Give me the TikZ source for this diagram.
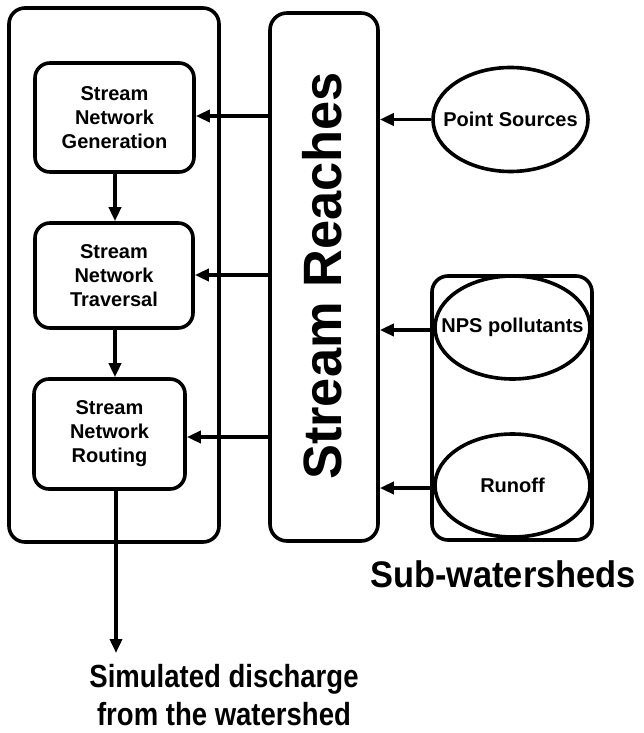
\documentclass[tikz,border=0pt]{standalone}
\usepackage{fontspec}
\setmainfont{Liberation Sans}
\usetikzlibrary{arrows.meta,shapes.geometric}
\begin{document}
\begin{tikzpicture}[x=1pt,y=-1pt,
  lw/.style={line width=3.6pt},
  frame/.style={lw,draw,rounded corners=16pt},
  proc/.style={lw,draw,rounded corners=15pt},
  oval/.style={lw,draw,ellipse},
  arr/.style={lw,-{Triangle[length=14pt,width=12pt]}},
  lbl/.style={font=\fontsize{20}{24}\selectfont\bfseries,align=center,inner sep=0pt},
  big/.style={font=\fontsize{32}{40}\selectfont\bfseries,anchor=base,inner sep=0pt},
]
\useasboundingbox (0,0) rectangle (643,733);
% left frame
\draw[frame] (9,8) rectangle (219,542);
\node[proc,minimum width=159pt,minimum height=109pt] (gen) at (114.5,117.5) {};
\node[lbl] at (gen) {Stream\\Network\\Generation};
\node[proc,minimum width=158pt,minimum height=105pt] (trav) at (114,275.5) {};
\node[lbl] at (trav) {Stream\\Network\\Traversal};
\node[proc,minimum width=151pt,minimum height=110pt] (rout) at (109.5,434) {};
\node[lbl] at (rout) {Stream\\Network\\Routing};
% stream reaches
\node[proc,rounded corners=17pt,minimum width=108pt,minimum height=528pt] (sr) at (324,277) {};
\node[font=\fontsize{54}{60}\selectfont\bfseries,rotate=90,inner sep=0pt] at (322,276) {\scalebox{0.97}[1]{Stream Reaches}};
% sub-watersheds
\node[frame,minimum width=160pt,minimum height=264pt,inner sep=0pt] (sw) at (512,408) {};
\node[oval,minimum width=155pt,minimum height=104pt,inner sep=0pt] (ps) at (510.5,119.5) {};
\node[lbl] at (ps) {Point Sources};
\node[oval,minimum width=155pt,minimum height=103pt,inner sep=0pt] (nps) at (512.5,327.5) {};
\node[lbl] at (nps) {NPS pollutants};
\node[oval,minimum width=155pt,minimum height=103pt,inner sep=0pt] (ro) at (512.5,485.5) {};
\node[lbl] at (ro) {Runoff};
\node[big,font=\fontsize{37}{40}\selectfont\bfseries] (swl) at (503,587) {\scalebox{0.93}[1]{Sub-watersheds}};
\node[big] (out1) at (224,687) {\scalebox{0.86}[1]{Simulated discharge}};
\node[big] (out2) at (224,725) {\scalebox{0.86}[1]{from the watershed}};
% arrows
\draw[arr] (gen.south -| 115,0) -- (trav.north -| 115,0);
\draw[arr] (trav.south -| 115,0) -- (rout.north -| 115,0);
\draw[arr] (rout.south -| 116,0) -- (116,653);
\draw[arr] (sr.west |- 0,116) -- (gen.east |- 0,116);
\draw[arr] (sr.west |- 0,275) -- (trav.east |- 0,275);
\draw[arr] (sr.west |- 0,437) -- (rout.east |- 0,437);
\draw[arr] (ps.west) -- (sr.east |- ps.west);
\draw[arr] (nps.west |- 0,330) -- (sr.east |- 0,330);
\draw[arr] (ro.west |- 0,488) -- (sr.east |- 0,488);
\end{tikzpicture}
\end{document}
